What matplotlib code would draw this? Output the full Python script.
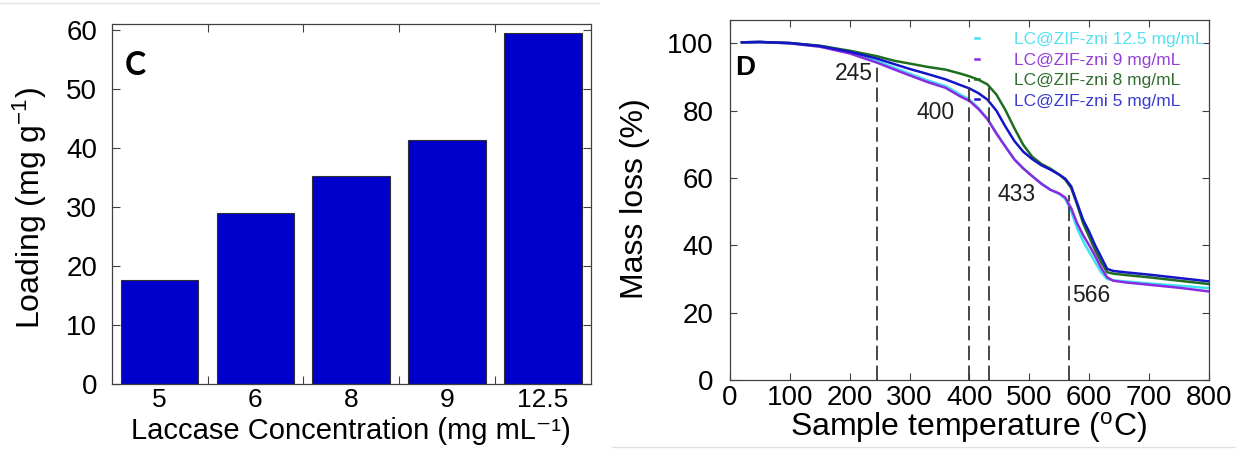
import matplotlib
matplotlib.use("Agg")
import matplotlib.pyplot as plt
from matplotlib.lines import Line2D

plt.rcParams['font.family'] = ['Liberation Sans', 'DejaVu Sans']
plt.rcParams['mathtext.default'] = 'regular'

# panel C data
conc_labels = ['5', '6', '8', '9', '12.5']
loading = [17.7, 29.0, 35.4, 41.5, 59.5]

# panel D data (TGA curves)
temp = [20, 50, 100, 150, 200, 245, 275, 300, 330, 360, 385, 400, 415, 430, 445,
        460, 475, 490, 505, 520, 535, 550, 560, 570, 580, 590, 600, 610, 620, 630,
        640, 660, 700, 750, 800]
mass_12_5 = [100.3, 100.4, 100.0, 99.1, 97.3, 94.8, 92.7, 91.0, 89.0, 87.3, 84.8, 83.3,
             80.8, 77.6, 73.4, 69.4, 65.6, 62.9, 60.6, 58.4, 56.6, 55.3, 53.8, 50.0,
             45.0, 41.2, 38.0, 35.0, 32.0, 30.0, 29.6, 29.3, 28.7, 28.0, 27.3]
mass_9 = [100.3, 100.4, 100.0, 99.0, 97.0, 94.3, 92.2, 90.5, 88.5, 86.8, 84.2, 82.9,
          80.5, 77.5, 73.2, 69.3, 65.5, 62.8, 60.5, 58.3, 56.5, 55.4, 54.2, 51.0,
          46.5, 43.0, 40.0, 36.8, 33.3, 30.5, 29.5, 29.0, 28.3, 27.4, 26.3]
mass_8 = [100.3, 100.4, 100.1, 99.3, 97.8, 96.2, 94.8, 94.0, 93.0, 92.2, 91.0, 90.2,
          89.2, 87.8, 84.8, 80.2, 74.8, 69.8, 66.3, 64.2, 62.8, 61.0, 59.5, 57.0,
          52.0, 46.5, 42.5, 38.5, 35.0, 32.0, 31.6, 31.2, 30.5, 29.5, 28.5]
mass_5 = [100.3, 100.4, 100.1, 99.2, 97.5, 95.5, 93.8, 92.4, 90.9, 89.3, 87.6, 86.6,
          85.2, 83.3, 80.0, 75.3, 71.0, 67.8, 65.6, 63.8, 62.5, 61.0, 59.8, 57.5,
          52.5, 47.5, 44.0, 40.0, 36.5, 33.0, 32.4, 32.0, 31.3, 30.3, 29.3]
series_labels = ['LC@ZIF-zni 12.5 mg/mL', 'LC@ZIF-zni 9 mg/mL',
                 'LC@ZIF-zni 8 mg/mL', 'LC@ZIF-zni 5 mg/mL']
series_colors = ['#3fe3f0', '#8a2be2', '#1f6e1f', '#1515c8']

# marked temperatures
mark_T = [245, 400, 433, 566]
mark_top = [93, 89.5, 87, 55]

fig = plt.figure(figsize=(12.36, 4.51), dpi=100)
spine_col = '#404040'

# ---- panel C ----
ax1 = fig.add_axes([0.0904, 0.1479, 0.3875, 0.799])
pos = list(range(len(loading)))
ax1.bar(pos, loading, width=0.81, color='#0000cc', edgecolor='#303030', linewidth=0.8)
ax1.set_xlim(-0.5, 4.5)
ax1.set_ylim(0, 61.1)
ax1.set_yticks(range(0, 61, 10))
ax1.set_xticks([p + 0.5 for p in pos[:-1]])
ax1.set_xticklabels([])
ax1.set_xticks(pos, conc_labels, minor=True)
ax1.tick_params(axis='x', which='minor', length=0, pad=3, labelsize=19)
ax1.tick_params(axis='x', which='major', direction='in', length=6, top=True, color=spine_col)
ax1.tick_params(axis='y', direction='in', length=6, right=True, pad=10.5,
                labelsize=20, color=spine_col)
for s in ax1.spines.values():
    s.set_color(spine_col)
    s.set_linewidth(0.9)
ax1.set_ylabel('Loading (mg g$^{-1}$)', fontsize=23)
ax1.yaxis.set_label_coords(-0.13, 0.49)
ax1.set_xlabel('Laccase Concentration (mg mL\u207b\u00b9)', fontsize=21)
ax1.xaxis.set_label_coords(0.5, -0.09)
ax1.text(-0.36, 54.0, 'C', fontsize=23, fontweight='bold', family='Lato',
         ha='left', va='center')

# ---- panel D ----
ax2 = fig.add_axes([0.5906, 0.1574, 0.3875, 0.798])
all_mass = [mass_12_5, mass_9, mass_8, mass_5]
for m, lab, col in zip(all_mass, series_labels, series_colors):
    ax2.plot(temp, m, color=col, linewidth=1.8, label=lab)
ax2.vlines(mark_T, 0, mark_top, colors='#383838', linewidth=1.3,
           linestyles=(0, (8, 3)))
for t, (tx, ty) in zip(mark_T, [(175, 91), (312, 79.4), (447, 55), (571, 25)]):
    ax2.text(tx, ty, str(t), fontsize=16.5, ha='left', va='center', color='#202020')
ax2.text(8, 92.7, 'D', fontsize=20, fontweight='bold', ha='left', va='center')
ax2.set_xlim(0, 800)
ax2.set_ylim(0, 106.9)
ax2.set_xticks(range(0, 801, 100))
ax2.set_yticks(range(0, 101, 20))
ax2.tick_params(axis='x', direction='in', length=5, top=True, pad=3.6,
                labelsize=20, color=spine_col)
ax2.tick_params(axis='y', direction='in', length=5, right=True, pad=12,
                labelsize=20, color=spine_col)
for s in ax2.spines.values():
    s.set_color(spine_col)
    s.set_linewidth(0.9)
ax2.set_xlabel('Sample temperature ($^{o}$C)', fontsize=23)
ax2.xaxis.set_label_coords(0.497, -0.083)
ax2.set_ylabel('Mass loss (%)', fontsize=23)
ax2.yaxis.set_label_coords(-0.167, 0.505)
leg = ax2.legend(loc='upper right', bbox_to_anchor=(1.012, 0.995), frameon=False,
                 fontsize=12.5, handlelength=0.25, handletextpad=2.0,
                 labelspacing=0.3, borderaxespad=0.0, borderpad=0.6)
for txt, col in zip(leg.get_texts(), ['#55e0f0', '#9440d8', '#2e6e2e', '#3a3ad0']):
    txt.set_color(col)

# faint screenshot borders
fig.add_artist(Line2D([0, 0.485], [0.993, 0.993], color='#e2e2e2', linewidth=1))
fig.add_artist(Line2D([0.495, 1], [0.009, 0.009], color='#e2e2e2', linewidth=1))

fig.savefig('out.png', dpi=100)
